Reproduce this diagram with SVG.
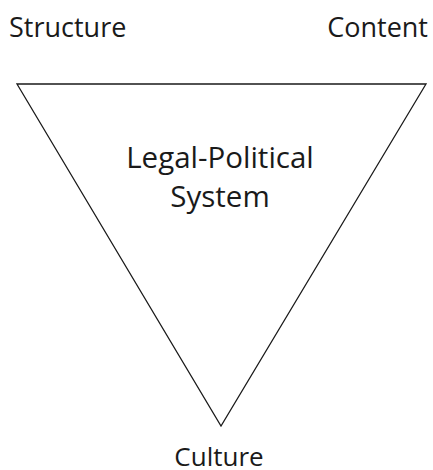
<svg xmlns="http://www.w3.org/2000/svg" width="433" height="470" viewBox="0 0 433 470">
<style>
.lbl{font-family:"Open Sans","Noto Sans",sans-serif;font-size:27px;fill:#1a1a1a}
.mid{font-size:29.5px}
.edge{fill:none;stroke:#1a1a1a;stroke-width:1.3}
</style>
<rect width="433" height="470" fill="#fff"/>
<g id="connectors">
<polygon class="edge" points="17,84 426,84 221,426"/>
</g>
<g id="structure"><text class="lbl" x="9" y="37">Structure</text></g>
<g id="content"><text class="lbl" x="428" y="37" text-anchor="end">Content</text></g>
<g id="system"><text class="lbl mid" x="220" y="168" text-anchor="middle">Legal-Political</text><text class="lbl mid" x="220" y="207" text-anchor="middle">System</text></g>
<g id="culture"><text class="lbl" x="219" y="466" text-anchor="middle" style="font-size:26px">Culture</text></g>
</svg>
